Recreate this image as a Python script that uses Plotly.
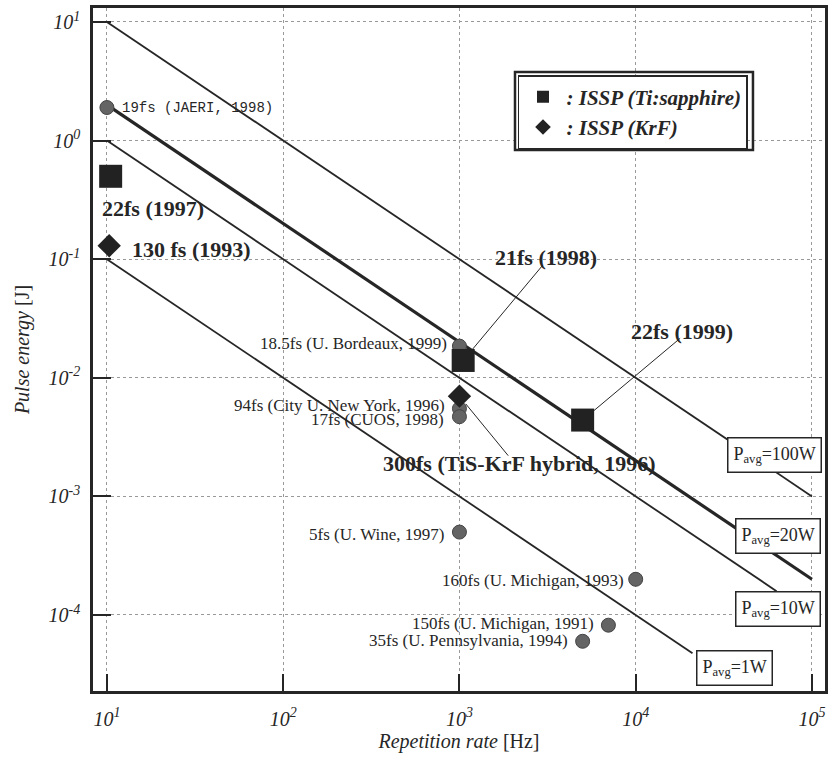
import math
import plotly.graph_objects as go

# ---- data -------------------------------------------------------------
# constant average-power lines: E = P / f
p_avg_w = [100, 20, 10, 1]
p_avg_text = ["P<sub>avg</sub>=100W", "P<sub>avg</sub>=20W",
              "P<sub>avg</sub>=10W", "P<sub>avg</sub>=1W"]
line_start_hz = 10
line_stop_hz = [1e5, 1e5, 6.3e4, 2.1e4]

# ISSP Ti:sapphire systems
tis_rate = [10.5, 1050, 5000]
tis_energy = [0.5, 0.014, 0.0044]
tis_text = ["22fs (1997)", "21fs (1998)", "22fs (1999)"]

# ISSP KrF systems
krf_rate = [10.3, 1000]
krf_energy = [0.13, 0.007]
krf_text = ["130 fs (1993)", "300fs (TiS-KrF hybrid, 1996)"]

# other laboratories
lab_rate = [10, 1000, 1000, 1000, 1000, 10000, 7000, 5000]
lab_energy = [1.9, 0.0185, 0.0055, 0.0047, 5e-4, 2e-4, 8.2e-5, 6e-5]
lab_text = ["19fs (JAERI, 1998)", "18.5fs (U. Bordeaux, 1999)",
            "94fs (City U. New York, 1996)", "17fs (CUOS, 1998)",
            "5fs (U. Wine, 1997)", "160fs (U. Michigan, 1993)",
            "150fs (U. Michigan, 1991)", "35fs (U. Pennsylvania, 1994)"]

x_ticks = [1e1, 1e2, 1e3, 1e4, 1e5]
x_tick_text = ["10<sup>1</sup>", "10<sup>2</sup>", "10<sup>3</sup>",
               "10<sup>4</sup>", "10<sup>5</sup>"]
y_ticks = [1e-4, 1e-3, 1e-2, 1e-1, 1e0, 1e1]
y_tick_text = ["10<sup>-4</sup>", "10<sup>-3</sup>", "10<sup>-2</sup>",
               "10<sup>-1</sup>", "10<sup>0</sup>", "10<sup>1</sup>"]

# ---- styling ----------------------------------------------------------
SERIF = "Liberation Serif"
MONO = "Liberation Mono"
INK = "#262626"
W, H = 831, 765
MARGIN = dict(l=93, r=6, t=8, b=74)
X_RANGE = [0.921, 5.074]
Y_RANGE = [-4.641, 1.118]
line_widths = [1.8, 3.2, 1.8, 1.8]
# label boxes for the power lines (log10 coordinates)
box_pos = [(4.790, -2.655), (4.807, -3.338), (4.810, -3.949), (4.558, -4.443)]
# label offsets (px) relative to the marker
lab_offsets = [("left", 13, 0), ("right", -10, 3), ("right", -12, 3),
               ("right", -13, -3), ("right", -13, -2), ("right", -10, -1),
               ("right", -12, 2), ("right", -13, 1)]
tis_offsets = [("left", -11, -32), ("center", 83, 103), ("center", 99, 89)]
krf_offsets = [("left", 21, -4), ("center", 60, -67)]
# leader lines: (series, index, ax, ay, standoff)
leaders = [("tis", 1, 81, -97, 14), ("tis", 2, 99, -83, 14), ("krf", 1, 50, 61, 10)]

# pixels per decade on each axis, used to give the tick marks a pixel length
px_per_dec_x = (W - MARGIN["l"] - MARGIN["r"]) / (X_RANGE[1] - X_RANGE[0])
px_per_dec_y = (H - MARGIN["t"] - MARGIN["b"]) / (Y_RANGE[1] - Y_RANGE[0])

minor_x = [m * 10 ** d for d in range(1, 5) for m in range(2, 10)]
minor_y = [m * 10 ** d for d in range(-5, 1) for m in range(2, 10)]


def in_range(v, rng):
    return rng[0] < math.log10(v) < rng[1]


fig = go.Figure()

for p, stop, w in zip(p_avg_w, line_stop_hz, line_widths):
    xs = [line_start_hz, stop]
    fig.add_trace(go.Scatter(
        x=xs, y=[p / v for v in xs], mode="lines",
        line=dict(color=INK, width=w), showlegend=False, hoverinfo="skip"))

fig.add_trace(go.Scatter(
    x=lab_rate, y=lab_energy, mode="markers", showlegend=False,
    marker=dict(symbol="circle", size=14, color="#646464",
                line=dict(color="#444444", width=1))))

fig.add_trace(go.Scatter(
    x=tis_rate, y=tis_energy, mode="markers", name=": ISSP (Ti:sapphire)",
    marker=dict(symbol="square", size=23, color="#222222")))

fig.add_trace(go.Scatter(
    x=krf_rate, y=krf_energy, mode="markers", name=": ISSP (KrF)",
    marker=dict(symbol="diamond", size=18, color="#222222")))

# inward tick marks along the bottom and left frame, as data-space shapes
shapes = []
for vals, length, width in [(x_ticks, 17, 2.2), (minor_x, 9, 1.8)]:
    for v in vals:
        if in_range(v, X_RANGE):
            lx = math.log10(v)
            shapes.append(dict(
                type="line", xref="x", yref="y", layer="above",
                x0=lx, x1=lx, y0=Y_RANGE[0],
                y1=Y_RANGE[0] + length / px_per_dec_y,
                line=dict(color="#1e1e1e", width=width)))
for vals, length, width in [(y_ticks, 18, 2.2), (minor_y, 10, 1.8)]:
    for v in vals:
        if in_range(v, Y_RANGE):
            ly = math.log10(v)
            shapes.append(dict(
                type="line", xref="x", yref="y", layer="above",
                y0=ly, y1=ly, x0=X_RANGE[0],
                x1=X_RANGE[0] + length / px_per_dec_x,
                line=dict(color="#1e1e1e", width=width)))

# outer frame of the double-ruled legend box
shapes.append(dict(type="rect", xref="paper", yref="paper",
                   x0=0.5765, x1=0.9016, y0=0.7921, y1=0.9063,
                   line=dict(color=INK, width=2.5), fillcolor="rgba(0,0,0,0)"))

annotations = []
for x, y, t, (anc, dx, dy) in zip(lab_rate, lab_energy, lab_text, lab_offsets):
    mono = t.startswith("19fs")
    annotations.append(dict(
        x=math.log10(x), y=math.log10(y), text=t, showarrow=False,
        xanchor=anc, yanchor="middle", xshift=dx, yshift=dy,
        font=dict(family=MONO if mono else SERIF, size=14 if mono else 17,
                  color=INK)))

for rates, energies, texts, offs in [(tis_rate, tis_energy, tis_text, tis_offsets),
                                      (krf_rate, krf_energy, krf_text, krf_offsets)]:
    for x, y, t, (anc, dx, dy) in zip(rates, energies, texts, offs):
        annotations.append(dict(
            x=math.log10(x), y=math.log10(y), text="<b>" + t + "</b>",
            showarrow=False, xanchor=anc, yanchor="middle",
            xshift=dx, yshift=dy,
            font=dict(family=SERIF, size=22, color=INK)))

series = {"tis": (tis_rate, tis_energy), "krf": (krf_rate, krf_energy)}
for key, i, ax, ay, so in leaders:
    xr, ye = series[key]
    annotations.append(dict(
        x=math.log10(xr[i]), y=math.log10(ye[i]), text="", showarrow=True,
        arrowhead=0, arrowwidth=1, arrowcolor=INK, ax=ax, ay=ay, standoff=so))

for t, (bx, by) in zip(p_avg_text, box_pos):
    annotations.append(dict(
        x=bx, y=by, text=t, showarrow=False, xanchor="center", yanchor="middle",
        bgcolor="white", bordercolor=INK, borderwidth=1.5, borderpad=5,
        font=dict(family=SERIF, size=18, color=INK)))

axis_common = dict(
    type="log", showline=True, linewidth=2.5, linecolor=INK, mirror=True,
    ticks="inside", tickwidth=2, tickcolor=INK,
    showgrid=True, gridcolor="#999999", gridwidth=1, griddash="dot",
    zeroline=False, tickmode="array",
    tickfont=dict(family=SERIF, size=20, color=INK, style="italic"),
)

fig.update_layout(
    width=W, height=H,
    margin=dict(MARGIN, autoexpand=False),
    plot_bgcolor="white", paper_bgcolor="white",
    xaxis=dict(axis_common, range=X_RANGE, tickvals=x_ticks, ticklen=17,
               ticktext=x_tick_text, ticklabelstandoff=8,
               title=dict(text="<i>Repetition rate</i> [Hz]", standoff=4,
                          font=dict(family=SERIF, size=20, color=INK))),
    yaxis=dict(axis_common, range=Y_RANGE, tickvals=y_ticks, ticklen=18,
               ticktext=y_tick_text, ticklabelstandoff=6,
               title=dict(text="<i>Pulse energy</i> [J]", standoff=14,
                          font=dict(family=SERIF, size=20, color=INK))),
    legend=dict(x=0.5806, y=0.9019, xanchor="left", yanchor="top",
                bgcolor="white", bordercolor=INK, borderwidth=1.5,
                itemsizing="constant", itemwidth=37, tracegroupgap=0,
                font=dict(family=SERIF, size=21, color=INK,
                          weight="bold", style="italic")),
    annotations=annotations,
    shapes=shapes,
    showlegend=True,
)

fig.write_html("out.html")
